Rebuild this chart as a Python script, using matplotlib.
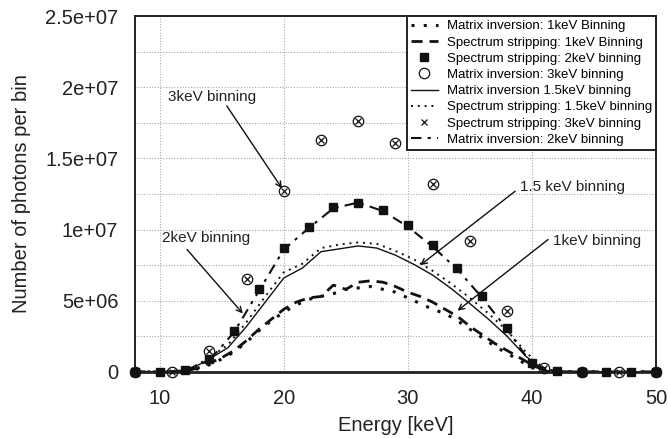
import matplotlib
matplotlib.use('Agg')
import matplotlib.pyplot as plt
import numpy as np

plt.rcParams['font.family'] = ['Liberation Sans', 'DejaVu Sans']

# energy grids for each binning
e_1kev = list(range(8, 51))
e_15kev = [8 + 1.5 * k for k in range(29)]
e_2kev = list(range(8, 51, 2))
e_3kev = list(range(8, 51, 3))

mi_1kev = [0, 0, 0, 0, 5e4, 2e5, 5e5, 9e5, 1.4e6, 2.1e6, 2.9e6, 3.6e6, 4.2e6, 4.7e6,
           5.1e6, 5.3e6, 5.5e6, 5.8e6, 5.9e6, 6.0e6, 5.8e6, 5.6e6, 5.2e6, 4.8e6, 4.4e6,
           4.1e6, 3.6e6, 3.0e6, 2.4e6, 1.8e6, 1.3e6, 8e5, 3e5, 5e4, 0, 0, 0, 0, 0, 0, 0, 0, 0]
ss_1kev = [0, 0, 0, 0, 5e4, 2.5e5, 6e5, 1.0e6, 1.5e6, 2.2e6, 3.0e6, 3.7e6, 4.4e6, 4.9e6,
           5.2e6, 5.3e6, 6.1e6, 5.8e6, 6.3e6, 6.4e6, 6.3e6, 6.0e6, 5.6e6, 5.3e6, 4.9e6,
           4.4e6, 3.9e6, 3.2e6, 2.6e6, 2.0e6, 1.5e6, 1.0e6, 5e5, 1e5, 0, 0, 0, 0, 0, 0, 0, 0, 0]
mi_15kev = [0, 0, 0, 2e5, 9e5, 1.7e6, 3.2e6, 4.9e6, 6.6e6, 7.3e6, 8.45e6, 8.65e6, 8.85e6,
            8.7e6, 8.2e6, 7.55e6, 6.8e6, 5.85e6, 4.8e6, 3.7e6, 2.5e6, 1.1e6, 1e5,
            0, 0, 0, 0, 0, 0]
ss_15kev = [0, 0, 0, 2.5e5, 1.0e6, 1.9e6, 3.5e6, 5.3e6, 7.0e6, 7.6e6, 8.7e6, 8.95e6, 9.1e6,
            9.0e6, 8.5e6, 7.9e6, 7.1e6, 6.2e6, 5.2e6, 4.1e6, 2.9e6, 1.4e6, 2e5,
            0, 0, 0, 0, 0, 0]
ss_2kev = [0, 0, 1e5, 9e5, 2.9e6, 5.8e6, 8.7e6, 1.02e7, 1.16e7, 1.19e7, 1.14e7, 1.03e7,
           8.9e6, 7.3e6, 5.35e6, 3.1e6, 6e5, 5e4, 0, 0, 0, 0]
mi_2kev = [0, 0, 1e5, 8e5, 2.8e6, 5.7e6, 8.6e6, 1.01e7, 1.15e7, 1.19e7, 1.13e7, 1.02e7,
           8.8e6, 7.2e6, 5.2e6, 3.0e6, 5e5, 5e4, 0, 0, 0, 0]
mi_3kev = [0, 0, 1.5e6, 6.5e6, 1.27e7, 1.63e7, 1.76e7, 1.61e7, 1.32e7, 9.2e6, 4.3e6, 3e5, 0, 0, 0]
ss_3kev = [0, 0, 1.5e6, 6.5e6, 1.27e7, 1.63e7, 1.76e7, 1.61e7, 1.32e7, 9.2e6, 4.3e6, 3e5, 0, 0, 0]

ytick_vals = [0, 5e6, 1e7, 1.5e7, 2e7, 2.5e7]
ytick_labels = ['0', '5e+06', '1e+07', '1.5e+07', '2e+07', '2.5e+07']
xtick_vals = [10, 20, 30, 40, 50]

fig = plt.figure(figsize=(6.68, 4.38), dpi=100)
ax = fig.add_axes([0.202, 0.151, 0.78, 0.812])

ax.plot(e_1kev, mi_1kev, color='#111111', linestyle=(0, (1, 3)), linewidth=2.2,
        label='Matrix inversion: 1keV Binning')
ax.plot(e_1kev, ss_1kev, color='#111111', linestyle=(0, (4, 2.5)), linewidth=2.0,
        label='Spectrum stripping: 1keV Binning')
ax.plot(e_2kev, ss_2kev, color='#111111', linestyle='', marker='s', markersize=6,
        clip_on=False, zorder=4, label='Spectrum stripping: 2keV binning')
ax.plot(e_3kev, mi_3kev, color='#111111', linestyle='', marker='o', markersize=7.5,
        markerfacecolor='none', markeredgewidth=0.9, clip_on=False, zorder=4,
        label='Matrix inversion: 3keV binning')
ax.plot(e_15kev, mi_15kev, color='#111111', linewidth=1.0,
        label='Matrix inversion 1.5keV binning')
ax.plot(e_15kev, ss_15kev, color='#111111', linestyle=(0, (1, 2.5)), linewidth=1.4,
        label='Spectrum stripping: 1.5keV binning')
ax.plot(e_3kev, ss_3kev, color='#111111', linestyle='', marker='x', markersize=4.5,
        markeredgewidth=0.9, clip_on=False, zorder=4,
        label='Spectrum stripping: 3keV binning')
ax.plot(e_2kev, mi_2kev, color='#111111', linestyle=(0, (5, 3, 1.5, 3)), linewidth=1.5,
        label='Matrix inversion: 2keV binning')

ax.set_xlim(8, 50)
ax.set_ylim(0, 2.5e7)
ax.set_xticks(xtick_vals)
ax.set_yticks(ytick_vals)
ax.set_yticklabels(ytick_labels)
ax.set_yticks(np.arange(2.5e6, 2.5e7, 5e6), minor=True)
ax.tick_params(which='both', length=0, labelsize=14.5, colors='#222222')
ax.tick_params(axis='y', pad=12)
ax.tick_params(axis='x', pad=12)
ax.grid(True, which='both', color='#aaaaaa', linestyle=(0, (1, 1.5)), linewidth=0.8)
ax.set_axisbelow(True)
for s in ax.spines.values():
    s.set_linewidth(1.4)
    s.set_color('#222222')
ax.spines['bottom'].set_linewidth(2)

ax.set_xlabel('Energy [keV]', fontsize=14.5, color='#222222', labelpad=6)
ax.set_ylabel('Number of photons per bin', fontsize=14.5, color='#222222', labelpad=10)

arrow = dict(arrowstyle='->', color='#111111', lw=1.0, shrinkA=0, shrinkB=0)
ax.text(10.66, 1.93e7, '3keV binning', fontsize=11, va='center', color='#222222')
ax.annotate('', xy=(19.85, 1.29e7), xytext=(15.4, 1.87e7), arrowprops=arrow)
ax.text(10.18, 9.44e6, '2keV binning', fontsize=11, va='center', color='#222222')
ax.annotate('', xy=(16.7, 4.1e6), xytext=(12.2, 8.6e6), arrowprops=arrow)
ax.text(39.05, 1.30e7, '1.5 keV binning', fontsize=11, va='center', color='#222222')
ax.annotate('', xy=(31.0, 7.5e6), xytext=(38.65, 1.27e7), arrowprops=arrow)
ax.text(41.7, 9.2e6, '1keV binning', fontsize=11, va='center', color='#222222')
ax.annotate('', xy=(34.0, 4.3e6), xytext=(41.3, 9.3e6), arrowprops=arrow)

leg = ax.legend(loc='upper right', fontsize=9.5, borderaxespad=0, fancybox=False,
                framealpha=1, edgecolor='#222222', handlelength=2.0, handletextpad=0.7,
                labelspacing=0.3, borderpad=0.3)
leg.get_frame().set_linewidth(1.4)

fig.savefig('out.png', dpi=100)
